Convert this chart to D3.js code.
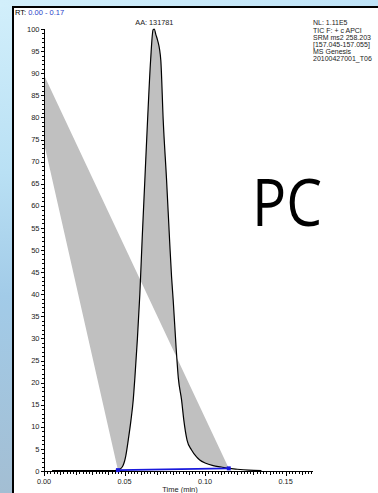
<!DOCTYPE html>
<html><head><meta charset="utf-8">
<script src="https://cdn.jsdelivr.net/npm/d3@7"></script>
<style>html,body{margin:0;padding:0;overflow:hidden;background:#fff}body{width:378px;height:493px}</style>
</head><body><svg id="c" width="378" height="493"></svg>
<script>
// ---- data ----
const times = [0.005, 0.020, 0.035, 0.044, 0.0459, 0.0475, 0.0490, 0.0500, 0.0508, 0.0523, 0.0540, 0.0554, 0.0564, 0.0580, 0.0595, 0.0610, 0.0626, 0.0643, 0.0662, 0.0677, 0.0685, 0.0694, 0.0705, 0.0725, 0.0740, 0.0761, 0.0780, 0.0792, 0.0802, 0.0820, 0.0834, 0.0854, 0.0868, 0.0888, 0.0916, 0.0947, 0.0967, 0.1000, 0.1050, 0.1100, 0.1147, 0.1200, 0.1270, 0.1350];
const intensities = [0.1, 0.1, 0.1, 0.1, 0.2, 0.5, 1.2, 2.2, 3.5, 7.0, 11.5, 16.1, 21, 30, 40, 53, 65.8, 79.4, 93, 99.8, 100, 98.8, 97.5, 93, 79.4, 65.8, 52, 43.9, 38.7, 28, 21, 16.1, 11.5, 7.0, 4.75, 3.2, 2.5, 1.8, 1.2, 0.9, 0.6, 0.4, 0.2, 0.1];
const peakStartTime = 0.0459, peakEndTime = 0.1147;
const baselineValues = [0.2, 0.6];
const fillEdgeTimes = [0, 0];
const fillEdgeValues = [89.6, 74.2];
const xDomain = [0, 0.167];
const xTickLabels = [0, 0.05, 0.10, 0.15];
const yTickLabels = d3.range(0, 101, 5);
const headerLines = ["NL: 1.11E5", "TIC F: + c APCI", "SRM ms2 258.203", "[157.045-157.055]", "MS  Genesis", "20100427001_T06"];
const peakLabel = "AA: 131781";

// ---- drawing ----
const svg = d3.select("#c");
const defs = svg.append("defs");
const g = defs.append("linearGradient").attr("id","bg").attr("x1",0).attr("y1",0).attr("x2",0).attr("y2",1);
[["0%","#d2effb"],["35%","#b9e0f4"],["60%","#a2cbe8"],["100%","#a3bed3"]].forEach(s=>g.append("stop").attr("offset",s[0]).attr("stop-color",s[1]));
const g2 = defs.append("linearGradient").attr("id","bgtop").attr("x1",0).attr("y1",0).attr("x2",1).attr("y2",0);
[["0%","#d2effb"],["100%","#bfe3f7"]].forEach(s=>g2.append("stop").attr("offset",s[0]).attr("stop-color",s[1]));
svg.append("rect").attr("width",378).attr("height",493).attr("fill","url(#bg)");
svg.append("rect").attr("width",378).attr("height",7).attr("fill","url(#bgtop)");
svg.append("rect").attr("x",14).attr("y",8).attr("width",364).attr("height",485).attr("fill","#fff");
svg.append("rect").attr("x",12).attr("y",6).attr("width",2).attr("height",487).attr("fill","#000");
svg.append("rect").attr("x",12).attr("y",6).attr("width",366).attr("height",2).attr("fill","#000");

const x = d3.scaleLinear().domain(xDomain).range([44, 313]);
const y = d3.scaleLinear().domain([0, 100]).range([471, 29]);
const font = "'Liberation Sans', Arial, sans-serif";

const pts = times.map((t,i)=>[t, intensities[i]]);
const line = d3.line().x(d=>x(d[0])).y(d=>y(d[1])).curve(d3.curveMonotoneX);

// integration fill polygon
const peakPts = pts.filter(d=>d[0]>=peakStartTime-1e-9 && d[0]<=peakEndTime+1e-9);
let poly = line(peakPts);
fillEdgeTimes.forEach((t,i)=>{ poly += `L${x(t)},${y(fillEdgeValues[i])}`; });
poly += "Z";
svg.append("path").attr("d", poly).attr("fill","#c0c0c0").attr("fill-rule","evenodd");

// axes
const ax = svg.append("g").attr("stroke","#000").attr("stroke-width",1).attr("shape-rendering","crispEdges");
ax.append("line").attr("x1",44.5).attr("x2",44.5).attr("y1",y(100)).attr("y2",471.5);
ax.append("line").attr("x1",44).attr("x2",313).attr("y1",471.5).attr("y2",471.5);
d3.range(0, 101, 1).forEach(v=>{
  const len = v%5===0 ? 4 : 2.5;
  ax.append("line").attr("x1",44.5-len).attr("x2",44.5).attr("y1",Math.round(y(v))+0.5).attr("y2",Math.round(y(v))+0.5);
});
d3.range(0, 84).forEach(k=>{
  const t = k*0.002;
  if (t > xDomain[1]) return;
  const len = (k%25===0) ? 4 : (k%5===0 ? 3 : 2);
  const px = Math.round(x(t))+0.5;
  ax.append("line").attr("x1",px).attr("x2",px).attr("y1",471.5).attr("y2",471.5+len);
});
svg.append("g").selectAll("text").data(yTickLabels).join("text")
  .attr("x",39.5).attr("y",d=>y(d)+2.6).attr("text-anchor","end")
  .attr("font-family",font).attr("font-size",7.5).attr("fill","#222").text(d=>d);
svg.append("g").selectAll("text").data(xTickLabels).join("text")
  .attr("x",d=>x(d)).attr("y",483.5).attr("text-anchor","middle")
  .attr("font-family",font).attr("font-size",7.3).attr("fill","#222").text(d=>d.toFixed(2));
svg.append("text").attr("x",180).attr("y",492).attr("text-anchor","middle")
  .attr("font-family",font).attr("font-size",7.5).attr("fill","#222").text("Time (min)");

// trace
svg.append("path").attr("d", line(pts)).attr("fill","none").attr("stroke","#000").attr("stroke-width",1.2);

// baseline
const b0 = [x(peakStartTime), y(baselineValues[0])], b1 = [x(peakEndTime), y(baselineValues[1])];
svg.append("line").attr("x1",b0[0]).attr("y1",b0[1]).attr("x2",b1[0]).attr("y2",b1[1]).attr("stroke","#1a1adc").attr("stroke-width",1.6);
[b0,b1].forEach(p=>svg.append("rect").attr("x",p[0]-2).attr("y",p[1]-2).attr("width",4).attr("height",4).attr("fill","#1a1adc"));

// texts
const rt = svg.append("text").attr("x",15).attr("y",14.5).attr("font-family",font).attr("font-size",7.5);
rt.append("tspan").attr("fill","#000").text("RT: ");
rt.append("tspan").attr("fill","#2a3fc8").text("0.00 - 0.17");
const apexIdx = d3.maxIndex(intensities);
svg.append("text").attr("x",x(times[apexIdx])).attr("y",25).attr("text-anchor","middle")
  .attr("font-family",font).attr("font-size",7.3).attr("fill","#222").text(peakLabel);
const ys = [25, 32.5, 39.5, 46.5, 53.5, 60.5];
headerLines.forEach((s,i)=>{
  svg.append("text").attr("x",313).attr("y",ys[i]).attr("font-family",font).attr("font-size",7)
    .attr("fill","#222").text(s);
});
svg.append("text").attr("x",252).attr("y",226).attr("font-family","'Open Sans', 'Liberation Sans', sans-serif")
  .attr("font-size",66).attr("fill","#000").attr("textLength",70).attr("lengthAdjust","spacingAndGlyphs").text("PC");
</script></body></html>
